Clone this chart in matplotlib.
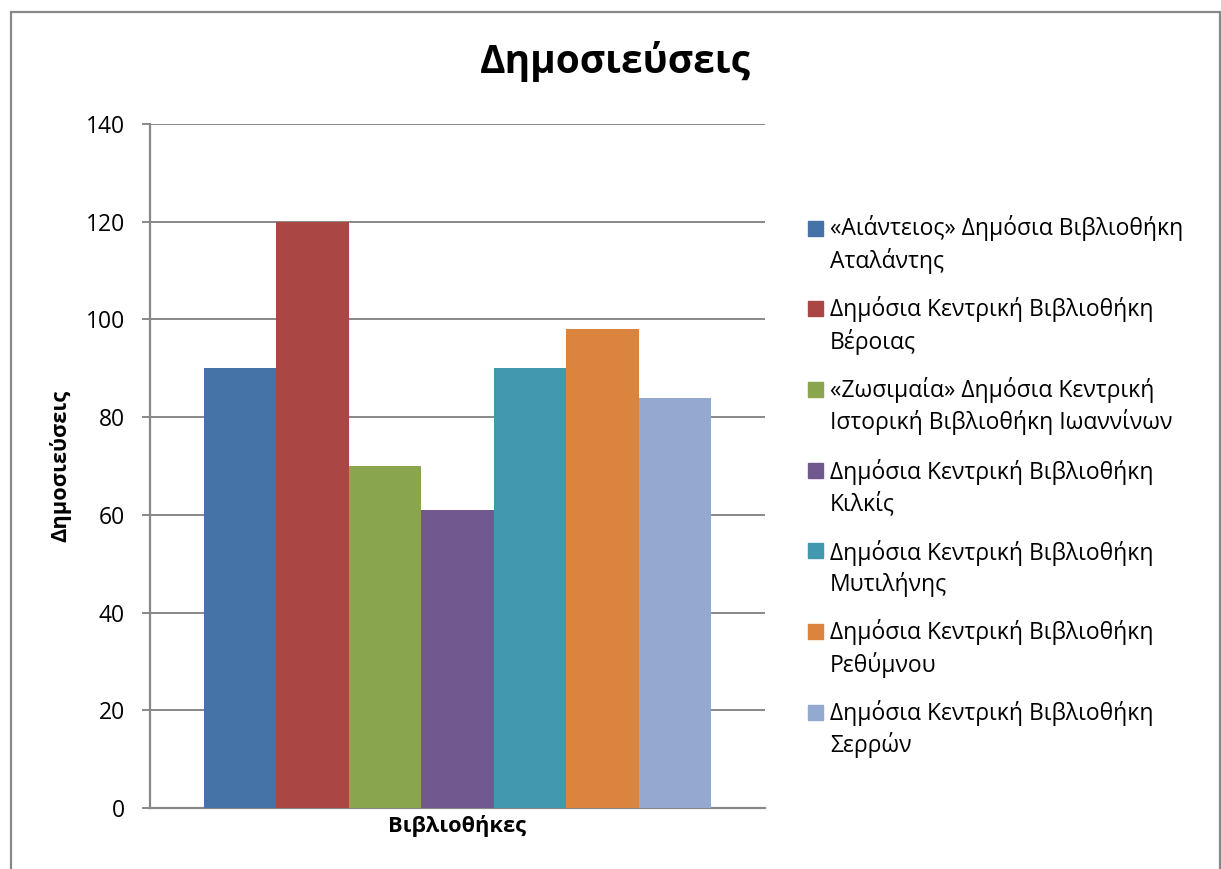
import matplotlib.pyplot as plt
from matplotlib.patches import Rectangle

# data
libraries = [
    "«Αιάντειος» Δημόσια Βιβλιοθήκη\nΑταλάντης",
    "Δημόσια Κεντρική Βιβλιοθήκη\nΒέροιας",
    "«Ζωσιμαία» Δημόσια Κεντρική\nΙστορική Βιβλιοθήκη Ιωαννίνων",
    "Δημόσια Κεντρική Βιβλιοθήκη\nΚιλκίς",
    "Δημόσια Κεντρική Βιβλιοθήκη\nΜυτιλήνης",
    "Δημόσια Κεντρική Βιβλιοθήκη\nΡεθύμνου",
    "Δημόσια Κεντρική Βιβλιοθήκη\nΣερρών",
]
publications = [90, 120, 70, 61, 90, 98, 84]
colors = ["#4572A7", "#AA4643", "#89A54E", "#71588F", "#4198AF", "#DB843D", "#93A9CF"]
yticks = [0, 20, 40, 60, 80, 100, 120, 140]

plt.rcParams['font.family'] = ['Open Sans', 'DejaVu Sans']
W, H = 1221, 869
fig = plt.figure(figsize=(W / 100, H / 100), dpi=100)
ax = fig.add_axes([150 / W, 1 - 808 / H, 615 / W, 684 / H])

grey = "#888888"
n = len(publications)
group = 0.826
bw = group / n
for i, (v, c, lab) in enumerate(zip(publications, colors, libraries)):
    ax.bar(-group / 2 + bw * (i + 0.5), v, width=bw, color=c, zorder=3, label=lab)

ax.set_xlim(-0.5, 0.5)
ax.set_ylim(0, 140)
ax.set_yticks(yticks)
ax.set_xticks([])
ax.yaxis.grid(True, color=grey, linewidth=1.4, zorder=0)
for s in ["top", "right"]:
    ax.spines[s].set_visible(False)
for s in ["left", "bottom"]:
    ax.spines[s].set_color(grey)
    ax.spines[s].set_linewidth(1.6)
ax.tick_params(axis='y', length=6, width=1.4, color=grey, pad=12, labelsize=16.5)

ax.set_xlabel("Βιβλιοθήκες", fontsize=15.7, fontweight='bold', labelpad=5)
ax.set_ylabel("Δημοσιεύσεις", fontsize=15.7, fontweight='bold', labelpad=10)
fig.text(615 / W, 1 - 73 / H, "Δημοσιεύσεις", fontsize=28, fontweight='bold',
         ha='center', va='baseline')

# legend drawn by hand so each square sits next to the first line
for i, (lab, c) in enumerate(zip(libraries, colors)):
    yc = 228 + 80.7 * i
    fig.patches.append(Rectangle((808 / W, 1 - (yc + 7.5) / H), 15 / W, 15 / H,
                                 transform=fig.transFigure, color=c))
    # baseline of the second line
    fig.text(830 / W, 1 - (yc + 40) / H, lab, fontsize=16.5, va='baseline', ha='left',
             linespacing=1.33)

# outer chart frame
fig.patches.append(Rectangle((10.5 / W, -0.05), 1209 / W, 1.05 - 11.5 / H,
                             transform=fig.transFigure, fill=False,
                             edgecolor=grey, linewidth=1.6))

fig.savefig("out.png", dpi=100)
